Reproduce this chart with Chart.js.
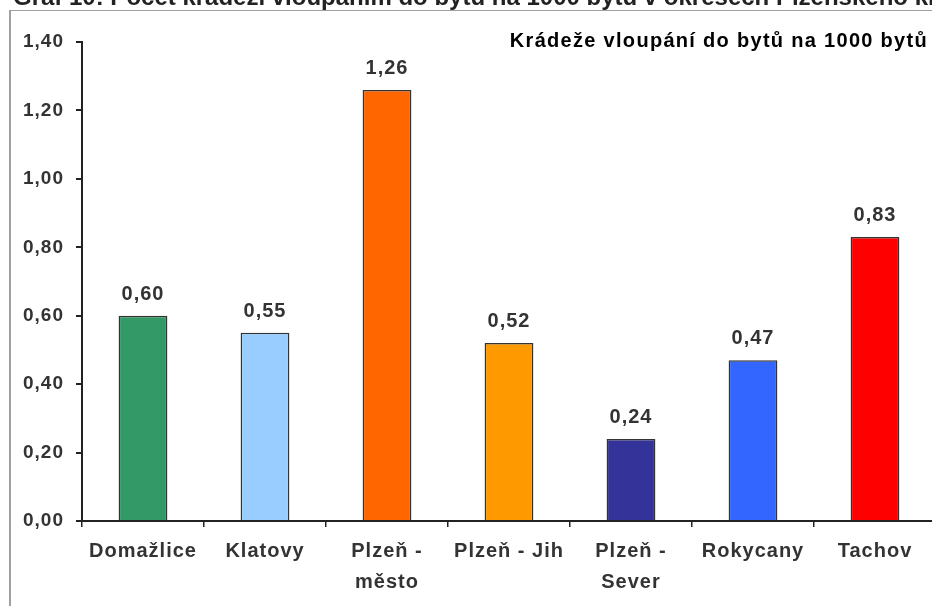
<!DOCTYPE html>
<html>
<head>
<meta charset="utf-8">
<script src="https://cdn.jsdelivr.net/npm/chart.js@4.4.1/dist/chart.umd.min.js"></script>
<style>
    html, body { margin: 0; padding: 0; background: #fff; overflow: hidden; }
    body { width: 932px; height: 606px; position: relative; }
    #frame {
        position: absolute; left: 9px; top: 10px; width: 960px; height: 640px;
        border-left: 2px solid #a0a0a0; border-top: 1px solid #a0a0a0;
    }
    #box { position: absolute; left: 0; top: 0; width: 936px; height: 606px; }
</style>
</head>
<body>
<div id="frame"></div>
<div id="box"><canvas id="chart"></canvas></div>
<script>
const categories = ['Domažlice', 'Klatovy', ['Plzeň -', 'město'], 'Plzeň - Jih', ['Plzeň -', 'Sever'], 'Rokycany', 'Tachov'];
const values = [0.60, 0.55, 1.26, 0.52, 0.24, 0.47, 0.83];
const barColors = ['#339966', '#99CCFF', '#FF6600', '#FF9900', '#333399', '#3366FF', '#FF0000'];
const yTicks = [0, 0.2, 0.4, 0.6, 0.8, 1.0, 1.2, 1.4];
const seriesName = 'Krádeže vloupání do bytů na 1000 bytů';
const chartTitle = 'Graf 10: Počet krádeží vloupáním do bytů na 1000 bytů v okresech Plzeňského kraje';

const fontFamily = '"Liberation Sans", Arial, sans-serif';
const fmt = v => v.toFixed(2).replace('.', ',');

// the old picture has loosely spaced text
const spacingPlugin = {
    id: 'spacing',
    beforeDraw(chart) { chart.ctx.letterSpacing = '1px'; }
};

// value labels above the bars, series name top right, cut-off title at the top
const labelsPlugin = {
    id: 'labels',
    afterDatasetsDraw(chart) {
        const ctx = chart.ctx;
        const meta = chart.getDatasetMeta(0);
        ctx.save();
        ctx.font = 'bold 20px ' + fontFamily;
        ctx.letterSpacing = '1px';
        ctx.fillStyle = '#333';
        ctx.textAlign = 'center';
        ctx.textBaseline = 'alphabetic';
        meta.data.forEach((bar, i) => {
            ctx.fillText(fmt(values[i]), bar.x, bar.y - 16);
        });

        ctx.fillStyle = '#000';
        ctx.textAlign = 'right';
        ctx.letterSpacing = '1.3px';
        ctx.fillText(seriesName, chart.chartArea.right - 8, 47);

        ctx.fillStyle = '#222';
        ctx.textAlign = 'left';
        ctx.letterSpacing = '0px';
        ctx.font = 'bold 24px ' + fontFamily;
        ctx.fillText(chartTitle, 13, 5);
        ctx.restore();
    }
};

new Chart(document.getElementById('chart'), {
    type: 'bar',
    data: {
        labels: categories,
        datasets: [{
            label: seriesName,
            data: values,
            backgroundColor: barColors,
            borderColor: '#333',
            borderWidth: 1.5,
            barPercentage: 0.4,
            categoryPercentage: 1
        }]
    },
    options: {
        responsive: true,
        maintainAspectRatio: false,
        animation: false,
        layout: { padding: { top: 42, left: 0, right: 0, bottom: 0 } },
        plugins: {
            legend: { display: false },
            tooltip: { enabled: false }
        },
        scales: {
            x: {
                grid: {
                    display: true,
                    offset: true,
                    drawOnChartArea: false,
                    tickLength: 6,
                    color: '#222',
                    lineWidth: 1.5
                },
                border: { display: true, color: '#222', width: 2 },
                ticks: {
                    color: '#333',
                    padding: 9,
                    maxRotation: 0,
                    autoSkip: false,
                    font: { family: fontFamily, size: 20, weight: 'bold', lineHeight: 1.55 }
                },
                afterFit: s => { s.height = 85; }
            },
            y: {
                min: 0,
                max: 1.4,
                afterBuildTicks: s => { s.ticks = yTicks.map(v => ({ value: v })); },
                grid: {
                    display: true,
                    drawOnChartArea: false,
                    tickLength: 6,
                    color: '#222',
                    lineWidth: 2
                },
                border: { display: true, color: '#222', width: 2 },
                ticks: {
                    color: '#333',
                    padding: 12,
                    callback: v => fmt(v),
                    font: { family: fontFamily, size: 19, weight: 'bold' }
                },
                afterFit: s => { s.width = 82; }
            }
        }
    },
    plugins: [spacingPlugin, labelsPlugin]
});
</script>
</body>
</html>
